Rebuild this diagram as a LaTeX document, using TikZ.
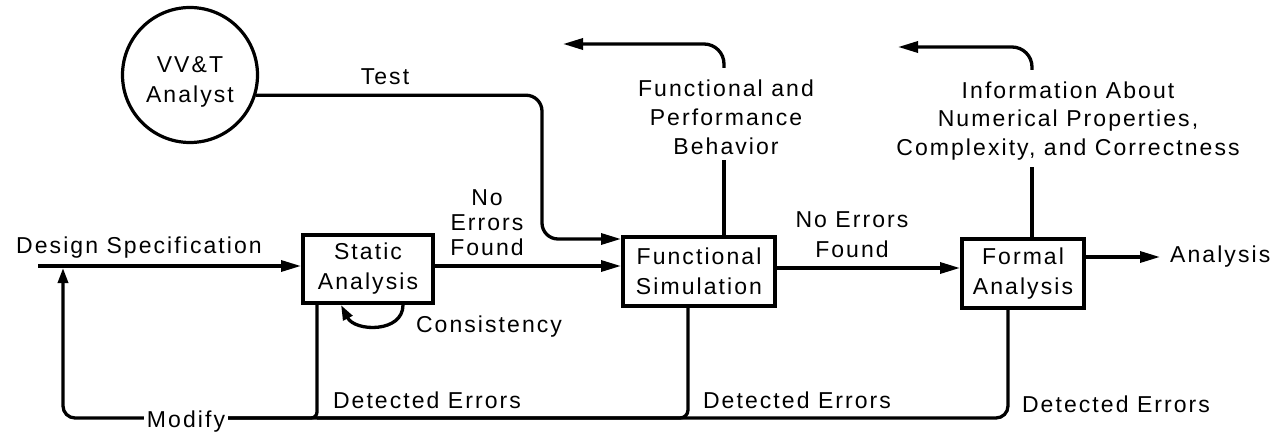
\documentclass[tikz,border=0pt]{standalone}
\usepackage{fontspec}
\setmainfont{Liberation Sans}[LetterSpace=9]
\usetikzlibrary{arrows.meta}
\begin{document}
\begin{tikzpicture}[x=1pt,y=-1pt,
  txt/.style={font=\fontsize{23}{29}\selectfont, align=center, inner sep=0pt},
  box/.style={draw, line width=4pt, rectangle, inner sep=0pt, font=\fontsize{23}{30}\selectfont, align=center},
  circ/.style={draw, circle, line width=3.2pt, minimum size=135pt, inner sep=0pt},
  conn/.style={line width=3.3pt},
  arr/.style={conn, -{Triangle[length=20pt,width=11pt]}},
  arrs/.style={conn, -{Triangle[length=15pt,width=10pt]}},
]
\useasboundingbox (0,0) rectangle (1280,433);

% nodes
\node[circ] (analyst) at (190,75) {};
\node[txt, font=\fontsize{23}{30}\selectfont] (analystlbl) at (190,82) {VV\&T\\Analyst};
\node[box, minimum width=130pt, minimum height=68pt] (static) at (368,269) {Static\\Analysis};
\node[box, minimum width=152pt, minimum height=69pt] (func) at (699,271.5) {Functional\\Simulation};
\node[box, minimum width=122pt, minimum height=69pt] (formal) at (1023,273.5) {Formal\\Analysis};

% labels
\node[txt] (dspec) at (139,248) {Design Specification};
\node[txt] (test) at (385,77) {Test};
\node[txt, font=\fontsize{23}{25}\selectfont] (nef1) at (487,223) {No\\Errors\\Found};
\node[txt, font=\fontsize{23}{30}\selectfont] (nef2) at (852,235) {No Errors\\Found};
\node[txt] (fpb) at (726,117) {Functional and\\Performance\\Behavior};
\node[txt, font=\fontsize{23}{28.5}\selectfont] (info) at (1068,121) {Information About\\Numerical Properties,\\Complexity, and Correctness};
\node[txt] (cons) at (489,327) {Consistency};
\node[txt, inner xsep=3pt] (modify) at (186,422) {Modify};
\node[txt] (de1) at (427,400) {Detected Errors};
\node[txt] (de2) at (797,400) {Detected Errors};
\node[txt] (de3) at (1116,404) {Detected Errors};
\node[txt, anchor=west] (anaout) at (1170,257) {Analysis};

% helper coordinates
\coordinate (dsin) at (38,266);
\coordinate (m1) at (0,266);
\coordinate (m2) at (0,268);
\coordinate (outend) at (1160,257);
\coordinate (tin) at (0,239);
\coordinate (tcorner) at (542,239);
\coordinate (fpbb) at (724,160);
\coordinate (fpbt) at (724,68);
\coordinate (fpbend) at (563,44);
\coordinate (ib) at (1032,167);
\coordinate (it) at (1032,70);
\coordinate (iend) at (898,47);
\coordinate (bot) at (0,418);
\coordinate (sx) at (317,0);
\coordinate (fx) at (688,0);
\coordinate (ox) at (1008,0);
\coordinate (fbx) at (63,268);
\coordinate (c1) at (403,0);
\coordinate (c2) at (341,0);

% main flow
\draw[arr] (dsin) -- (dsin -| static.west);
\draw[arr] (m1 -| static.east) -- (m1 -| func.west);
\draw[arr] (m2 -| func.east) -- (m2 -| formal.west);
\draw[arr] (outend -| formal.east) -- (outend);
% test
\draw[arr, rounded corners=16pt] (analyst.-17) -| (tcorner) -- (tin -| func.west);
% functional behaviour output
\draw[conn] (func.north -| fpbb) -- (fpbb);
\draw[arr, rounded corners=20pt] (fpbt) |- (fpbend);
% formal information output
\draw[conn] (formal.north -| ib) -- (ib);
\draw[arr, rounded corners=20pt] (it) |- (iend);
% consistency loop
\draw[arrs] (static.south -| c1) .. controls +(0,28) and +(14,27) .. (static.south -| c2);
% detected errors feedback
\draw[conn, rounded corners=12pt] (formal.south -| ox) |- (modify.east |- bot);
\draw[conn, rounded corners=8pt] (func.south -| fx) |- (sx |- bot);
\draw[conn, rounded corners=6pt] (static.south -| sx) |- (modify.east |- bot);
\draw[arrs, rounded corners=12pt] (modify.west |- bot) -| (fbx);
\end{tikzpicture}
\end{document}
